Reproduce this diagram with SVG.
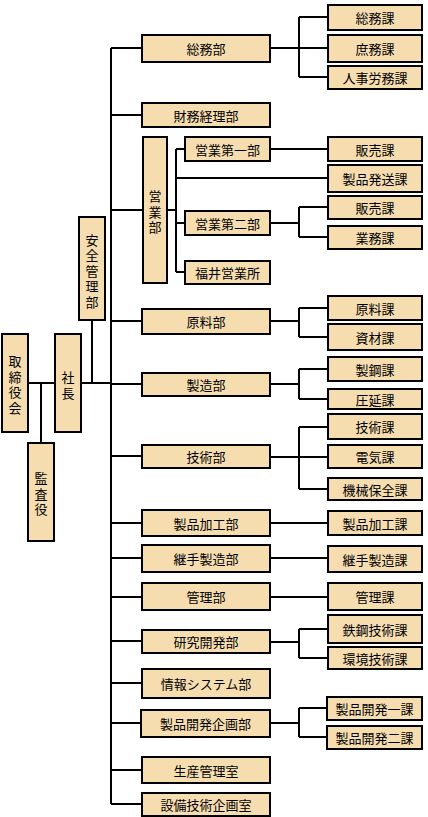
<svg xmlns="http://www.w3.org/2000/svg" width="428" height="817" viewBox="0 0 428 817">
<style>
.b{fill:#F6DDB0;stroke:#000;stroke-width:2}
.t{font-family:"Noto Sans CJK JP","Noto Sans CJK SC",sans-serif;font-size:13px;fill:#000;text-anchor:middle;dominant-baseline:central}
.v{font-family:"Noto Sans CJK JP","Noto Sans CJK SC",sans-serif;font-size:13px;fill:#000;text-anchor:middle;writing-mode:vertical-rl;letter-spacing:2.5px}
.c{fill:none;stroke:#000;stroke-width:2}
</style>
<rect width="428" height="817" fill="#fff"/>
<g id="connectors" class="c">
<path d="M111,48V804"/>
<path d="M111,48H142M111,115H142M111,210H143M111,321H142M111,384H142M111,456H142M111,523H142M111,558H142M111,597H142M111,641H142M111,683H142M111,723H141M111,770H142M111,804H142"/>
<path d="M28,383H55M81,383H111M92,320V383M41,383V443"/>
<path d="M270,48H328M299,17V77M299,17H328M299,77H328"/>
<path d="M167,210H176M176,149V272M176,149H185M176,178H328M176,223H185M176,272H185M270,149H328"/>
<path d="M270,223H299M299,207V237M299,207H328M299,237H328"/>
<path d="M270,321H299M299,308V337M299,308H328M299,337H328"/>
<path d="M270,384H299M299,369V399M299,369H328M299,399H328"/>
<path d="M270,457H328M299,427V489M299,427H328M299,489H328"/>
<path d="M270,523H328M270,558H328M270,597H328"/>
<path d="M270,642H299M299,629V658M299,629H328M299,658H328"/>
<path d="M270,723H299M299,708V737M299,708H327M299,737H327"/>
</g>
<g id="n-torishimari"><rect class="b" x="2" y="334" width="26" height="98"/><text class="v" x="15" y="386">取締役会</text></g>
<g id="n-kansa"><rect class="b" x="28" y="443" width="26" height="98"/><text class="v" x="41" y="495">監査役</text></g>
<g id="n-shacho"><rect class="b" x="55" y="334" width="26" height="98"/><text class="v" x="68" y="386.5">社長</text></g>
<g id="n-anzen"><rect class="b" x="79" y="217" width="26" height="103"/><text class="v" x="92" y="272">安全管理部</text></g>
<g id="n-somubu"><rect class="b" x="142" y="35" width="128" height="27"/><text class="t" x="206" y="48.5">総務部</text></g>
<g id="n-zaimu"><rect class="b" x="142" y="103" width="128" height="24"/><text class="t" x="206" y="115">財務経理部</text></g>
<g id="n-eigyo"><rect class="b" x="143" y="137" width="24" height="146"/><text class="v" x="155" y="213">営業部</text></g>
<g id="n-eigyo1"><rect class="b" x="185" y="137" width="85" height="24"/><text class="t" x="227.5" y="149">営業第一部</text></g>
<g id="n-eigyo2"><rect class="b" x="185" y="211" width="85" height="24"/><text class="t" x="227.5" y="223">営業第二部</text></g>
<g id="n-fukui"><rect class="b" x="185" y="261" width="85" height="23"/><text class="t" x="227.5" y="272.5">福井営業所</text></g>
<g id="n-genryobu"><rect class="b" x="142" y="309" width="128" height="25"/><text class="t" x="206" y="321.5">原料部</text></g>
<g id="n-seizobu"><rect class="b" x="142" y="373" width="128" height="23"/><text class="t" x="206" y="384.5">製造部</text></g>
<g id="n-gijutsubu"><rect class="b" x="142" y="445" width="128" height="23"/><text class="t" x="206" y="456.5">技術部</text></g>
<g id="n-kakobu"><rect class="b" x="142" y="510" width="128" height="26"/><text class="t" x="206" y="523">製品加工部</text></g>
<g id="n-tsugitebu"><rect class="b" x="142" y="545" width="128" height="27"/><text class="t" x="206" y="558.5">継手製造部</text></g>
<g id="n-kanribu"><rect class="b" x="142" y="583" width="128" height="27"/><text class="t" x="206" y="596.5">管理部</text></g>
<g id="n-kenkyubu"><rect class="b" x="142" y="630" width="128" height="23"/><text class="t" x="206" y="641.5">研究開発部</text></g>
<g id="n-johobu"><rect class="b" x="142" y="669" width="128" height="29"/><text class="t" x="206" y="683.5">情報システム部</text></g>
<g id="n-kikakubu"><rect class="b" x="141" y="710" width="129" height="27"/><text class="t" x="205.5" y="723.5">製品開発企画部</text></g>
<g id="n-seisan"><rect class="b" x="142" y="757" width="128" height="26"/><text class="t" x="206" y="770">生産管理室</text></g>
<g id="n-setsubi"><rect class="b" x="142" y="793" width="128" height="23"/><text class="t" x="206" y="804.5">設備技術企画室</text></g>
<g id="s-somuka"><rect class="b" x="328" y="5" width="94" height="25"/><text class="t" x="375" y="17.5">総務課</text></g>
<g id="s-shomuka"><rect class="b" x="328" y="35" width="94" height="27"/><text class="t" x="375" y="48.5">庶務課</text></g>
<g id="s-jinji"><rect class="b" x="328" y="66" width="94" height="23"/><text class="t" x="375" y="77.5">人事労務課</text></g>
<g id="s-hanbai1"><rect class="b" x="328" y="137" width="94" height="24"/><text class="t" x="375" y="149">販売課</text></g>
<g id="s-hasso"><rect class="b" x="328" y="165" width="94" height="27"/><text class="t" x="375" y="178.5">製品発送課</text></g>
<g id="s-hanbai2"><rect class="b" x="328" y="196" width="94" height="23"/><text class="t" x="375" y="207.5">販売課</text></g>
<g id="s-gyomu"><rect class="b" x="328" y="226" width="94" height="23"/><text class="t" x="375" y="237.5">業務課</text></g>
<g id="s-genryo"><rect class="b" x="328" y="296" width="94" height="24"/><text class="t" x="375" y="308">原料課</text></g>
<g id="s-shizai"><rect class="b" x="328" y="324" width="94" height="26"/><text class="t" x="375" y="337">資材課</text></g>
<g id="s-seiko"><rect class="b" x="328" y="357" width="94" height="24"/><text class="t" x="375" y="369">製鋼課</text></g>
<g id="s-atsuen"><rect class="b" x="328" y="389" width="94" height="20"/><text class="t" x="375" y="399">圧延課</text></g>
<g id="s-gijutsu"><rect class="b" x="328" y="414" width="94" height="25"/><text class="t" x="375" y="426.5">技術課</text></g>
<g id="s-denki"><rect class="b" x="328" y="445" width="94" height="23"/><text class="t" x="375" y="456.5">電気課</text></g>
<g id="s-kikai"><rect class="b" x="328" y="478" width="94" height="22"/><text class="t" x="375" y="489">機械保全課</text></g>
<g id="s-kako"><rect class="b" x="328" y="511" width="94" height="24"/><text class="t" x="375" y="523">製品加工課</text></g>
<g id="s-tsugite"><rect class="b" x="328" y="546" width="94" height="26"/><text class="t" x="375" y="559">継手製造課</text></g>
<g id="s-kanri"><rect class="b" x="328" y="583" width="94" height="27"/><text class="t" x="375" y="596.5">管理課</text></g>
<g id="s-tekko"><rect class="b" x="328" y="615" width="94" height="28"/><text class="t" x="375" y="629">鉄鋼技術課</text></g>
<g id="s-kankyo"><rect class="b" x="328" y="647" width="94" height="22"/><text class="t" x="375" y="658">環境技術課</text></g>
<g id="s-kaihatsu1"><rect class="b" x="327" y="697" width="95" height="23"/><text class="t" x="374.5" y="708.5">製品開発一課</text></g>
<g id="s-kaihatsu2"><rect class="b" x="327" y="726" width="95" height="23"/><text class="t" x="374.5" y="737.5">製品開発二課</text></g>
</svg>
